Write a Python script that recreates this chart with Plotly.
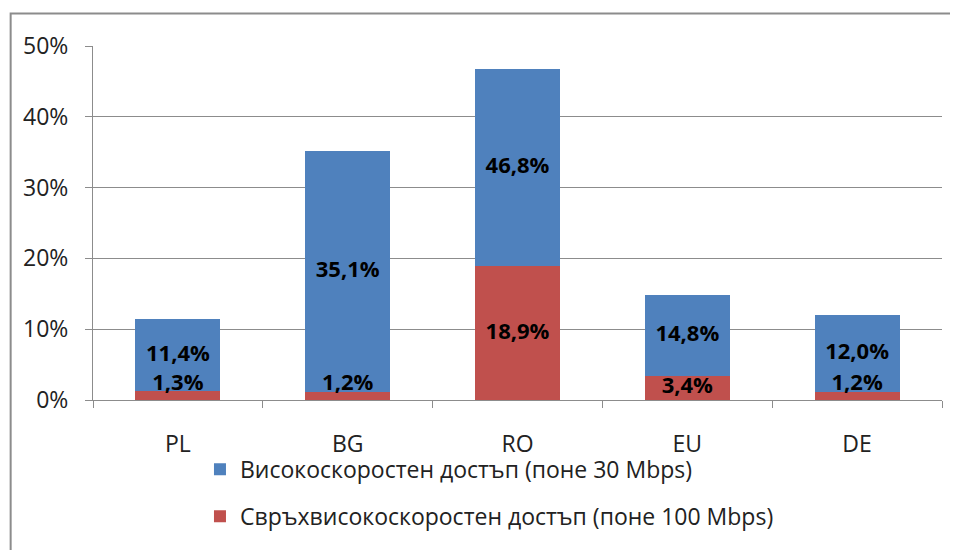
import plotly.graph_objects as go

# данни
countries = ["PL", "BG", "RO", "EU", "DE"]
high_speed = [11.4, 35.1, 46.8, 14.8, 12.0]      # поне 30 Mbps
ultra_speed = [1.3, 1.2, 18.9, 3.4, 1.2]        # поне 100 Mbps

name_high = "Високоскоростен достъп (поне 30 Mbps)"
name_ultra = "Свръхвисокоскоростен достъп (поне 100 Mbps)"

blue = "#4F81BD"
red = "#C0504D"
font = "'Open Sans', sans-serif"


def lbl(v):
    return f"{v:.1f}%".replace(".", ",")


fig = go.Figure()

# червената част отдолу
fig.add_trace(go.Bar(
    x=countries,
    y=[v / 100 for v in ultra_speed],
    name=name_ultra,
    marker=dict(color=red, line=dict(width=0)),
    legendrank=2,
    legendgroup="b",
))

# синята част над нея (до общата стойност)
fig.add_trace(go.Bar(
    x=countries,
    y=[(h - u) / 100 for h, u in zip(high_speed, ultra_speed)],
    name=name_high,
    marker=dict(color=blue, line=dict(width=0)),
    legendrank=1,
    legendgroup="a",
))

# етикети - в средата на видимата част на всяка колона
label_font = dict(family=font, size=22, color="black", weight="bold")
fig.add_trace(go.Scatter(
    x=countries,
    y=[(h + u) / 200 for h, u in zip(high_speed, ultra_speed)],
    text=[lbl(v) for v in high_speed],
    mode="text",
    textposition="middle center",
    textfont=label_font,
    showlegend=False,
    cliponaxis=False,
    hoverinfo="skip",
))
fig.add_trace(go.Scatter(
    x=countries,
    y=[u / 200 for u in ultra_speed],
    text=[lbl(v) for v in ultra_speed],
    mode="text",
    textposition=["top center" if u < 3 else "middle center" for u in ultra_speed],
    textfont=label_font,
    showlegend=False,
    cliponaxis=False,
    hoverinfo="skip",
))

fig.update_layout(
    width=950, height=542,
    barmode="stack",
    bargap=0.5,
    plot_bgcolor="white",
    paper_bgcolor="white",
    margin=dict(l=85, r=16, t=38, b=147),
    font=dict(family=font, size=23, color="#222"),
    separators=", ",
    showlegend=True,
    legend=dict(
        orientation="v",
        x=0.126, y=-0.135,
        xanchor="left", yanchor="top",
        tracegroupgap=14,
        bgcolor="rgba(0,0,0,0)",
        font=dict(size=23, family=font, color="#222"),
        itemwidth=30,
    ),
    shapes=[dict(
        type="path", xref="paper", yref="paper",
        path="M -0.097,-0.5 L -0.097,1.092 L 1.03,1.092",
        line=dict(color="#8c8c8c", width=2),
    )],
)

fig.update_yaxes(
    range=[0, 0.5], dtick=0.1, tickformat=".0%",
    showgrid=True, gridcolor="#8c8c8c", gridwidth=1,
    showline=True, linecolor="#8c8c8c", linewidth=1,
    ticks="outside", ticklen=7, tickcolor="#8c8c8c",
    ticklabelstandoff=12,
    zeroline=False,
)
fig.update_xaxes(
    showline=True, linecolor="#8c8c8c", linewidth=1,
    ticks="outside", tickson="boundaries", ticklen=7, tickcolor="#8c8c8c",
    ticklabelstandoff=23,
)

fig.write_html("out.html")
